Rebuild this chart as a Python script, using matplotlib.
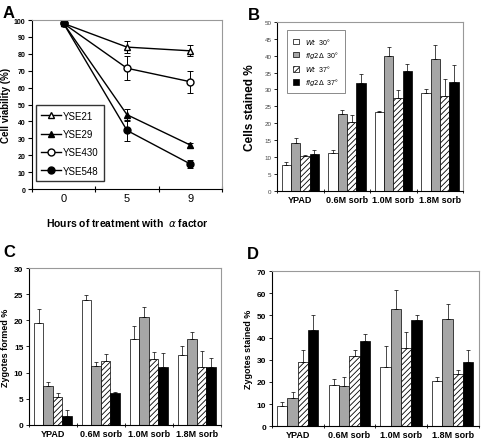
import numpy as np
import matplotlib.pyplot as plt

plt.rcParams['font.family'] = ['Liberation Sans', 'DejaVu Sans']
plt.rcParams['hatch.linewidth'] = 0.6

# panel A: viability after alpha factor
hours = ['0', '5', '9']
strains = ['YSE21', 'YSE29', 'YSE430', 'YSE548']
viab = {
    'YSE21': [98, 84, 81.8],
    'YSE29': [98, 44, 26],
    'YSE430': [98, 71.5, 63.5],
    'YSE548': [98, 34.7, 14.8],
}
viab_err = {
    'YSE21': [0, 3.5, 3.2],
    'YSE29': [0, 3.5, 1.5],
    'YSE430': [0, 7.2, 6.4],
    'YSE548': [0, 6.2, 2.2],
}

# panels B-D: bar groups
conditions = ['YPAD', '0.6M sorb', '1.0M sorb', '1.8M sorb']
series = [r'$\mathbf{\it{Wt}}$  30°', r'$\mathbf{\it{fig2\Delta}}$  30°',
          r'$\mathbf{\it{Wt}}$  37°', r'$\mathbf{\it{fig2\Delta}}$  37°']

cells_stained = [[7.5, 11.2, 23.2, 29.0],
                 [14.2, 22.6, 39.8, 39.1],
                 [10.3, 20.3, 27.5, 28.2],
                 [10.8, 31.8, 35.6, 32.3]]
cells_err = [[1.0, 0.8, 0.5, 1.2],
             [1.3, 1.3, 2.9, 4.0],
             [0.4, 2.0, 2.3, 4.8],
             [1.2, 2.8, 1.8, 4.9]]

zyg_formed = [[19.4, 23.8, 16.4, 13.4],
              [7.5, 11.3, 20.7, 16.4],
              [5.4, 12.2, 12.6, 11.1],
              [1.6, 6.0, 11.1, 11.1]]
zyg_formed_err = [[2.7, 1.1, 2.5, 1.7],
                  [0.7, 0.7, 1.8, 1.3],
                  [0.6, 1.4, 1.4, 3.1],
                  [1.2, 0.3, 2.6, 1.7]]

zyg_stained = [[9.3, 18.7, 26.8, 20.3],
               [12.8, 18.0, 53.0, 48.6],
               [29.2, 31.8, 35.5, 23.7],
               [43.6, 38.5, 47.8, 29.1]]
zyg_stained_err = [[1.7, 2.4, 9.4, 2.0],
                   [2.8, 4.1, 8.3, 6.7],
                   [5.4, 2.7, 6.9, 1.7],
                   [6.4, 3.3, 2.5, 5.5]]

fig = plt.figure(figsize=(4.82, 4.39), dpi=100)


def frame(ax):
    for s in ['top', 'right']:
        ax.spines[s].set_color('#999999')
        ax.spines[s].set_linewidth(0.8)
    for s in ['left', 'bottom']:
        ax.spines[s].set_linewidth(0.8)


# ---- A ----
axA = fig.add_axes([0.066, 0.567, 0.395, 0.385])
markers = {'YSE21': ('^', 'white'), 'YSE29': ('^', 'black'),
           'YSE430': ('o', 'white'), 'YSE548': ('o', 'black')}
x = np.arange(len(hours))
for s in strains:
    m, fc = markers[s]
    axA.errorbar(x, viab[s], yerr=viab_err[s], fmt='none', ecolor='black',
                 capsize=2.5, elinewidth=0.7, capthick=0.7)
    axA.plot(x, viab[s], color='black', lw=1.0, marker=m, mfc=fc,
             mec='black', ms=5, label=s)
axA.set_xlim(-0.5, 2.5)
axA.set_ylim(0, 100)
axA.set_yticks(range(0, 101, 10))
axA.set_xticks(x)
axA.set_xticklabels(hours, fontsize=8)
axA.set_xticks([-0.5, 0.5, 1.5, 2.5], minor=True)
axA.tick_params(axis='x', which='major', length=0, pad=3)
axA.tick_params(axis='x', which='minor', length=4, direction='inout', width=0.8)
axA.tick_params(axis='y', labelsize=5, length=3, width=0.8, pad=1.5)
for t in axA.get_yticklabels():
    t.set_fontweight('bold')
axA.set_ylabel('Cell viability (%)', fontsize=7, fontweight='bold', labelpad=2)
axA.set_xlabel(r'Hours of treatment with  $\alpha$ factor', fontsize=7.5,
               fontweight='bold', labelpad=9)
frame(axA)
legA = axA.legend(loc='lower left', bbox_to_anchor=(0.02, 0.045), fontsize=7,
                  frameon=True, fancybox=False, edgecolor='black',
                  handlelength=2.0, labelspacing=0.85, borderpad=0.6,
                  handletextpad=0.2, borderaxespad=0)
legA.get_frame().set_linewidth(1.0)

# ---- bar panels ----
colors = ['white', '#a6a6a6', 'white', 'black']
hatches = [None, None, '//////', None]
w = 0.2


def bars(ax, vals, errs):
    xc = np.arange(len(conditions))
    for i in range(4):
        ax.bar(xc + (i - 1.5) * w, vals[i], w, color=colors[i], hatch=hatches[i],
               edgecolor='black', linewidth=0.5, label=series[i])
        ax.errorbar(xc + (i - 1.5) * w, vals[i], yerr=[np.zeros(4), errs[i]],
                    fmt='none', ecolor='black', elinewidth=0.5, capsize=1.5,
                    capthick=0.5)
    ax.set_xlim(-0.5, 3.5)
    ax.set_xticks(xc)
    ax.set_xticklabels(conditions, fontsize=6.5, fontweight='bold')
    ax.set_xticks([-0.5, 0.5, 1.5, 2.5, 3.5], minor=True)
    ax.tick_params(axis='x', which='major', length=0, pad=3)
    ax.tick_params(axis='x', which='minor', length=3, direction='inout', width=0.6)
    ax.tick_params(axis='y', length=2.5, width=0.6, pad=1.5)
    frame(ax)


axB = fig.add_axes([0.575, 0.563, 0.386, 0.385])
bars(axB, cells_stained, cells_err)
axB.set_ylim(0, 50)
axB.set_yticks(range(0, 51, 5))
axB.tick_params(axis='y', labelsize=4.5, labelcolor='#444444')
axB.set_ylabel('Cells stained %', fontsize=8.5, fontweight='bold', labelpad=6)
legB = axB.legend(loc='upper left', bbox_to_anchor=(0.055, 0.95), fontsize=5,
                  frameon=True, fancybox=False, edgecolor='#555555',
                  handlelength=0.9, handleheight=0.9, labelspacing=0.45,
                  borderpad=0.8, handletextpad=0.9, borderaxespad=0)
legB.get_frame().set_linewidth(0.6)

axC = fig.add_axes([0.060, 0.030, 0.398, 0.357])
bars(axC, zyg_formed, zyg_formed_err)
axC.set_ylim(0, 30)
axC.set_yticks(range(0, 31, 5))
axC.tick_params(axis='y', labelsize=6)
for t in axC.get_yticklabels():
    t.set_fontweight('bold')
axC.set_ylabel('Zygotes formed %', fontsize=6.5, fontweight='bold', labelpad=3)

axD = fig.add_axes([0.564, 0.027, 0.429, 0.353])
bars(axD, zyg_stained, zyg_stained_err)
axD.set_ylim(0, 70)
axD.set_yticks(range(0, 71, 10))
axD.tick_params(axis='y', labelsize=6)
for t in axD.get_yticklabels():
    t.set_fontweight('bold')
axD.set_ylabel('Zygotes stained %', fontsize=6.5, fontweight='bold', labelpad=3)

for lab, xx, yy in [('A', 0.006, 0.96), ('B', 0.515, 0.955),
                    ('C', 0.006, 0.415), ('D', 0.512, 0.41)]:
    fig.text(xx, yy, lab, fontsize=12, fontweight='bold')

fig.savefig('out.png', dpi=100)
